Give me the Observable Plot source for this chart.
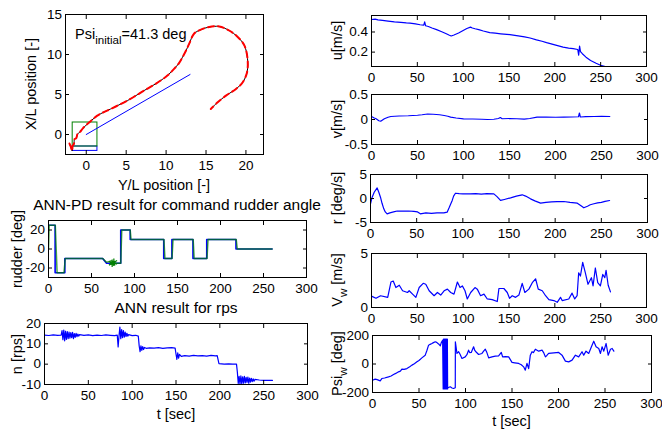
<!DOCTYPE html>
<html><head><meta charset="utf-8">
<script src="https://cdn.jsdelivr.net/npm/d3@7"></script>
<script src="https://cdn.jsdelivr.net/npm/@observablehq/plot@0.6"></script>
<style>
html,body{margin:0;padding:0;background:#fff;}
#fig{position:relative;width:662px;height:430px;overflow:hidden;background:#fff;}
#fig > svg{position:absolute;}
</style></head><body><div id="fig"></div>
<script>
// ---------------- data ----------------
const timeTicks = [0, 50, 100, 150, 200, 250, 300];
const trajXTicks = [0, 5, 10, 15, 20];
const trajYTicks = [0, 5, 10, 15];
// trajectory: [Y/L, X/L]
const trajectory = [[-2.1,-1.13],[-1.95,-1.5],[-1.76,-2.05],[-1.7,-1.4],[-1.55,-1.2],[-1.47,-0.58],[-1.25,-0.45],[-1.1,0.05],[-0.84,0.25],[-0.4,0.8],[0.13,1.3],[0.7,1.8],[1.38,2.35],[2.2,2.8],[3.05,3.19],[4.1,3.7],[5.15,4.23],[6.2,4.85],[7.24,5.49],[8.3,6.1],[9.33,6.75],[10.2,7.4],[11.0,8.2],[11.6,8.9],[12.06,9.67],[12.5,10.5],[12.9,11.36],[13.5,12.6],[14.36,13.1],[15.4,13.44],[16.66,13.5],[17.9,13.0],[18.97,12.19],[19.8,11.14],[20.2,9.47],[20.14,7.79],[19.6,6.53],[18.76,5.7],[17.5,4.86],[16.46,4.02],[15.6,3.19]];
const headingLine = [[0,0],[13,7.5]];
const shipBoxGreen = [{x1:-1.7,x2:1.4,y1:-1.5,y2:1.5}];
const shipBoxBlue = [{x1:-1.7,x2:1.4,y1:-2.05,y2:-1.5}];

// rudder: [t, deg]
const rudderCommand = [[0,25],[7.7,25],[7.7,-25],[19,-25],[19,-10],[63,-10],[67.5,-15],[84,-15],[84,20],[95,20],[95,10],[134,10],[134,-10],[143.5,-10],[143.5,10],[168,10],[168,-10],[184,-10],[184,10],[218,10],[218,0],[260,0]];
const rudderActual = [[0,0],[0.8,25],[7.9,25],[10,-25],[18,-25],[19.5,-10],[63,-10],[67.5,-14],[72,-13],[73,-16],[74,-14],[75,-17],[76,-13],[77,-15],[78,-15],[84,-15],[85.2,20],[95,20],[96,10],[134.2,10],[135.4,-10],[143.6,-10],[144.8,10],[168.2,10],[169.4,-10],[184.3,-10],[185.5,10],[218.3,10],[219.5,0],[260,0]];
const rudderStars = [[74,-15],[76,-14]];
const rudderTicks = [-20, 0, 20];

// propeller rps: [t, rps]
const rps = [[0,14.3],[5,14.1],[10,14.4],[15,14.2],[19,14.3],[20,16.5],[21,12.0],[22,16.8],[23,11.5],[24,16.2],[25,12.2],[26,16.0],[27,12.5],[28,15.8],[29,12.8],[30,15.5],[31,13.0],[32,15.6],[33,12.6],[34,15.0],[35,13.2],[36,15.2],[37,13.5],[38,14.8],[39,13.8],[40,14.5],[45,14.2],[50,14.4],[55,14.0],[60,14.3],[65,14.1],[70,14.4],[75,14.2],[80,14.0],[83,14.3],[84,8.5],[85,14.0],[86,18.2],[87,12.5],[88,17.0],[89,13.0],[90,16.5],[91,13.3],[92,15.8],[93,13.6],[94,15.2],[95,13.8],[96,14.5],[100,14.0],[104,14.2],[107,13.8],[108,9.0],[109,6.2],[110,9.0],[111,6.8],[112,8.6],[113,7.2],[114,8.2],[116,7.8],[120,8.0],[125,7.9],[130,8.1],[135,7.8],[140,8.0],[145,8.1],[149,7.9],[150,5.0],[151,2.4],[152,5.6],[153,3.0],[154,4.8],[156,3.8],[160,4.2],[165,4.0],[170,4.3],[175,4.1],[180,4.2],[185,4.0],[190,4.3],[195,4.1],[197,4.2],[199,0.3],[205,0],[210,0.1],[215,0],[219,0],[220,-4],[221,-9.5],[222,-6],[223,-9.8],[224,-5.8],[225,-9.6],[226,-6.2],[227,-9.4],[228,-6.0],[229,-9.2],[230,-6.5],[231,-9.0],[232,-6.4],[233,-9.4],[234,-6.8],[235,-8.8],[236,-7.0],[237,-8.6],[238,-7.2],[239,-8.4],[240,-7.5],[245,-7.8],[250,-8.0],[255,-7.9],[260,-8.0]];
const rpsTicks = [-10, 0, 10, 20];

// surge velocity u: [t, m/s]
const surge = [[0,0.524],[4,0.528],[7,0.52],[12,0.515],[18,0.508],[25,0.50],[32,0.495],[38,0.49],[42,0.488],[48,0.48],[53,0.472],[57,0.468],[58,0.5],[59,0.462],[62,0.455],[66,0.44],[71,0.424],[76,0.405],[81,0.385],[85,0.368],[87,0.36],[90,0.37],[95,0.39],[100,0.415],[104,0.435],[108,0.448],[110,0.44],[113,0.432],[117,0.424],[122,0.41],[129,0.394],[135,0.388],[141,0.382],[151,0.374],[160,0.362],[167,0.352],[173,0.34],[180,0.322],[186,0.308],[191,0.294],[197,0.28],[203,0.265],[209,0.25],[215,0.24],[220,0.235],[225,0.226],[226,0.17],[227,0.26],[228,0.205],[230,0.184],[234,0.15],[239,0.117],[245,0.09],[251,0.065],[255,0.057]];
const surgeTicks = [0.2, 0.4];

// sway velocity v: [t, m/s]
const sway = [[0,0.06],[3,0.03],[5,0.014],[8,-0.025],[10,-0.034],[12,-0.01],[14,0.014],[18,0.045],[21,0.06],[30,0.07],[40,0.075],[50,0.085],[55,0.095],[61,0.11],[67,0.105],[74,0.095],[79,0.08],[83,0.065],[86,0.047],[92,0.03],[100,0.014],[110,0.01],[120,0.005],[126,0],[133,0.005],[138,0.02],[140,0.04],[142,0.015],[150,0.02],[158,0.015],[166,0.007],[172,0.02],[180,0.047],[190,0.05],[200,0.045],[209,0.047],[218,0.05],[225,0.055],[226,0.13],[227,0.05],[233,0.058],[242,0.06],[250,0.065],[259,0.06]];
const swayTicks = [-0.5, 0, 0.5];

// yaw rate r: [t, deg/s]
const yawRate = [[0,-1.1],[1.8,0.27],[4,1.3],[7.2,2.2],[9,1.3],[10.8,0.27],[12.5,-1.0],[14.4,-2.15],[16,-2.8],[18,-3.2],[21,-3.0],[25,-2.8],[28.9,-2.6],[35,-2.65],[41,-2.6],[47,-2.7],[51,-2.8],[54,-3.2],[60,-3.0],[66,-3.1],[72,-3.0],[79.4,-3.0],[83,-2.85],[85,-2.0],[88.5,-0.4],[90,0.5],[92,1.1],[96,1.0],[100,0.95],[108,0.97],[114,1.0],[120,0.9],[126,1.0],[133.6,0.97],[137,0.4],[140.8,-0.4],[145,-0.2],[151.7,0.14],[158,0.5],[164.3,0.77],[168,0.5],[173.3,-0.07],[178,-0.5],[184.2,-0.97],[190,-0.8],[196,-0.7],[202,-0.65],[209.4,-0.63],[216,-0.8],[224,-0.97],[228,-1.5],[231,-1.94],[235,-1.6],[238,-1.3],[242,-1.1],[246,-0.9],[250,-0.8],[254,-0.6],[259,-0.42]];
const yawTicks = [-5, 0, 5];

// wind speed V_w: [t, m/s]
const windSpeed = [[0.5,1.03],[4.9,0.85],[9.9,1.09],[17.7,0.94],[21.2,2.36],[23.7,2.45],[26.6,1.85],[30.3,2.06],[33.9,1.55],[39.3,1.39],[41.1,1.55],[44.8,1.24],[48.4,0.94],[52,1.85],[56.4,2.24],[59.2,2.15],[62.9,1.55],[68.3,1.09],[71.9,1.39],[75.5,1.15],[79.2,1.55],[82.8,1.7],[86.4,1.39],[90,1.24],[93.7,2.36],[96.6,1.85],[99.1,2.0],[102,1.55],[104.5,0.79],[108.2,1.39],[112.9,1.85],[115.4,1.7],[119,1.09],[122.7,1.24],[126.3,0.79],[131.7,0.73],[137.2,0.55],[139,1.76],[144.4,1.76],[148.1,1.39],[150.6,0.85],[153.5,1.09],[157.2,0.94],[160.8,1.15],[164.4,2.24],[167.3,1.39],[171.7,1.7],[175.4,2.3],[179,2.66],[181.9,1.7],[186.3,1.55],[189.9,1.09],[193.5,0.73],[198.9,0.64],[202.6,0.48],[206.2,0.94],[208,0.64],[215.2,0.79],[218.8,1.33],[221.7,0.79],[224.3,1.09],[226,3.21],[227.9,2.91],[230.4,4.18],[233.3,3.21],[236.2,2.15],[239.9,2.76],[241.7,2.0],[244.2,3.66],[246.8,2.3],[249.7,2.0],[252.3,3.06],[254.5,2.76],[255.9,3.45],[258.2,2.06],[260.7,1.45]];
const windSpeedTicks = [0, 5];

// wind direction Psi_w: [t, deg]
const windDir = [[0,-114],[2.9,-106],[5,-110],[8.3,-118],[10,-102],[13,-98],[17.2,-90],[20,-84],[22.6,-74],[25,-66],[28,-55],[30,-50],[31.6,-36],[34,-38],[37,-32],[40,-20],[42.4,-8],[45,2],[47.8,15],[50,25],[53.1,43],[56.7,62],[58.5,95],[60.3,132],[62,138],[63.9,144],[65.5,150],[67.5,156],[69,152],[70.4,144],[71.5,138],[72.9,128],[74,150],[75.4,167],[76,-175],[76.3,175],[76.6,-175],[76.9,175],[77.2,-175],[77.5,175],[77.8,-175],[78.1,175],[78.4,-175],[78.7,175],[79,-175],[79.3,175],[79.6,-175],[79.9,175],[80.2,-175],[80.5,175],[80.8,-175],[81,-167],[83.6,-160],[85.5,-168],[87.2,-172],[89,-167],[89.1,156],[90.8,74],[92.6,86],[94,70],[96.2,39],[99.7,50],[101.5,65],[103.3,97],[104.5,80],[106.2,81],[108.7,121],[110,95],[111.2,86],[114.1,67],[117.7,74],[119.5,90],[121.3,104],[123,80],[124.9,43],[128.5,50],[132,55],[135.6,57],[138.5,81],[139.9,50],[143,52],[146.4,50],[150,11],[153,8],[157.2,4],[160,-5],[162.5,-20],[164.3,-43],[166.1,4],[167.9,-32],[169.7,62],[171.5,86],[173,80],[175.1,104],[178.7,90],[182.3,97],[184,80],[185.9,50],[187.5,60],[189.4,74],[195,78],[200.2,81],[203.8,62],[207.4,20],[211,15],[214.6,27],[218.2,62],[221.7,50],[225.3,86],[227.1,62],[229.6,90],[232.5,74],[235.4,121],[237.9,160],[240.4,121],[243.3,109],[245.1,74],[246.9,121],[248.7,90],[251.2,144],[253.4,62],[255.9,104],[257.7,109],[259.5,90]];
const windDirTicks = [-200, 0, 200];

// ---------------- drawing ----------------
const FONT = '"Liberation Sans", Arial, Helvetica, sans-serif';
const fig = document.getElementById("fig");
const fmt = d => String(d);
const X = d => d[0], Y = d => d[1];

function panel(box, xDomain, yDomain, xTicks, yTicks, marks) {
  const [L, T, R, B] = box;
  const ml = 50, mr = 22, mt = 12, mb = 30;
  const chart = Plot.plot({
    width: R - L + ml + mr, height: B - T + mt + mb,
    marginLeft: ml, marginRight: mr, marginTop: mt, marginBottom: mb,
    x: {domain: xDomain}, y: {domain: yDomain},
    style: {background: "none", overflow: "visible", fontFamily: FONT, fontSize: "13.5px", color: "black"},
    marks: [
      ...marks,
      Plot.axisX({ticks: xTicks, anchor: "bottom", tickSize: -4, tickPadding: 10, tickFormat: fmt, label: null, fontSize: 13.5}),
      Plot.axisX({ticks: xTicks, anchor: "top", tickSize: -4, fill: "none", label: null}),
      Plot.axisY({ticks: yTicks, anchor: "left", tickSize: -4, tickPadding: 7.5, tickFormat: fmt, label: null, fontSize: 13.5}),
      Plot.axisY({ticks: yTicks, anchor: "right", tickSize: -4, fill: "none", label: null}),
      Plot.frame({stroke: "black", strokeWidth: 1})
    ]
  });
  chart.style.left = (L - ml) + "px";
  chart.style.top = (T - mt) + "px";
  fig.appendChild(chart);
}

const blue = "#0000ff";
const lineOpts = (extra = {}) => ({x: X, y: Y, stroke: blue, strokeWidth: 1.2, clip: true, ...extra});

// trajectory
panel([65, 14, 263, 154], [-2.6, 22.2], [-2.5, 15], trajXTicks, trajYTicks, [
  Plot.rect(shipBoxBlue, {x1: "x1", x2: "x2", y1: "y1", y2: "y2", fill: "none", stroke: blue, strokeWidth: 1}),
  Plot.rect(shipBoxGreen, {x1: "x1", x2: "x2", y1: "y1", y2: "y2", fill: "none", stroke: "#008000", strokeWidth: 1}),
  Plot.line(headingLine, lineOpts({strokeWidth: 1})),
  Plot.line(trajectory, {x: X, y: Y, stroke: "black", strokeWidth: 1, curve: "catmull-rom"}),
  Plot.line(trajectory, {x: X, y: Y, stroke: "#ff0000", strokeWidth: 2, strokeDasharray: "6,4", curve: "catmull-rom"})
]);

// rudder
panel([48, 220, 306, 277], [0, 300], [-30, 30], timeTicks, rudderTicks, [
  Plot.line(rudderCommand, lineOpts({strokeWidth: 1.6})),
  Plot.line(rudderActual, lineOpts({stroke: "#008000", strokeWidth: 1.5, strokeOpacity: 0.72})),
  Plot.dot(rudderStars, {x: X, y: Y, symbol: "asterisk", r: 3.5, stroke: "#008000", strokeWidth: 1.2})
]);

// rps
panel([44, 323, 307, 384], [0, 300], [-10, 20], timeTicks, rpsTicks, [
  Plot.line(rps, lineOpts())
]);

// u
panel([371, 15, 646, 66], [0, 300], [0.057, 0.564], timeTicks, surgeTicks, [
  Plot.line(surge, lineOpts())
]);
// v
panel([371, 94, 647, 144], [0, 300], [-0.5, 0.5], timeTicks, swayTicks, [
  Plot.line(sway, lineOpts())
]);
// r
panel([370, 174, 647, 222], [0, 300], [-5, 5], timeTicks, yawTicks, [
  Plot.line(yawRate, lineOpts())
]);
// Vw
panel([371, 253, 646, 307], [0, 300], [0, 5], timeTicks, windSpeedTicks, [
  Plot.line(windSpeed, lineOpts())
]);
// Psi_w
panel([372, 335, 651, 392], [0, 300], [-200, 200], timeTicks, windDirTicks, [
  Plot.line(windDir, lineOpts())
]);

// ---------------- titles and labels ----------------
const ov = d3.select("#fig").append("svg")
  .attr("width", 662).attr("height", 430)
  .style("left", "0px").style("top", "0px").style("pointer-events", "none")
  .style("font-family", FONT).style("fill", "black");

function addText(x, y, parts, {size = 14.5, rotate = false, anchor = "middle"} = {}) {
  const t = ov.append("text")
    .attr("transform", rotate ? `translate(${x},${y}) rotate(-90)` : `translate(${x},${y})`)
    .attr("text-anchor", anchor).attr("font-size", size);
  let shift = 0;
  for (const p of parts) {
    const [s, sub] = Array.isArray(p) ? p : [p, false];
    const want = sub ? size * 0.33 : 0;
    const ts = t.append("tspan").attr("dy", want - shift).text(s);
    if (sub) ts.attr("font-size", size * 0.8);
    shift = want;
  }
  return t;
}

// trajectory
addText(35.5, 84, ["X/L position [-]"], {rotate: true});
addText(164, 190, ["Y/L position [-]"]);
addText(75, 39, ["Psi", ["initial", true], "=41.3 deg"], {anchor: "start", size: 14.5});
// rudder
addText(177, 209.5, ["ANN-PD result for command rudder angle"], {size: 15.5});
addText(22, 249, ["rudder [deg]"], {rotate: true});
// rps
addText(176, 312.5, ["ANN result for rps"], {size: 15.5});
addText(22, 354, ["n [rps]"], {rotate: true});
addText(176, 418.5, ["t [sec]"]);
// right column
addText(342, 40.5, ["u[m/s]"], {rotate: true});
addText(342, 119, ["v[m/s]"], {rotate: true});
addText(342, 198, ["r [deg/s]"], {rotate: true});
addText(342, 280, ["V", ["w", true], " [m/s]"], {rotate: true});
addText(342, 363.5, ["Psi", ["w", true], " [deg]"], {rotate: true});
addText(511.5, 426, ["t [sec]"]);
</script>
</body></html>
